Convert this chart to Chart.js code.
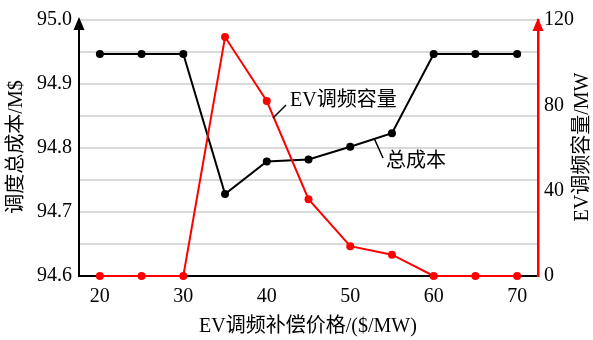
<!DOCTYPE html>
<html>
<head>
<meta charset="utf-8">
<script src="https://cdn.jsdelivr.net/npm/chart.js@4/dist/chart.umd.min.js"></script>
<style>
  body { margin: 0; background: #fff; }
  #wrap { width: 593px; height: 340px; }
</style>
</head>
<body>
<div id="wrap"><canvas id="cv" width="593" height="340"></canvas></div>
<script>
'use strict';

const FONT = '"Liberation Serif", "Times New Roman", "Noto Sans CJK SC", serif';

const prices   = [20, 25, 30, 35, 40, 45, 50, 55, 60, 65, 70];
const costs    = [94.947, 94.947, 94.947, 94.728, 94.779, 94.782, 94.802, 94.823, 94.947, 94.947, 94.947];
const capacity = [0, 0, 0, 112, 82, 36, 14, 10, 0, 0, 0];

const xTicks  = [20, 30, 40, 50, 60, 70];
const yTicks  = [94.6, 94.65, 94.7, 94.75, 94.8, 94.85, 94.9, 94.95, 95.0];
const y1Ticks = [0, 40, 80, 120];

const xTitle  = 'EV调频补偿价格/($/MW)';
const yTitle  = '调度总成本/M$';
const y1Title = 'EV调频容量/MW';

const toPts = (xs, ys) => xs.map((x, i) => ({ x, y: ys[i] }));
const asTicks = arr => arr.map(v => ({ value: v }));

// arrows on the two vertical axes, axis titles, and callout labels
const decorPlugin = {
  id: 'decor',
  afterDraw(chart) {
    const ctx = chart.ctx;
    const a = chart.chartArea;

    function arrow(x, tip, color) {
      ctx.save();
      ctx.fillStyle = color;
      ctx.beginPath();
      ctx.moveTo(x, tip);
      ctx.lineTo(x - 5.5, tip + 13);
      ctx.lineTo(x + 5.5, tip + 13);
      ctx.closePath();
      ctx.fill();
      ctx.restore();
    }
    arrow(a.left, a.top - 3, '#000');
    arrow(a.right, a.top - 2, '#ff0000');

    ctx.save();
    ctx.fillStyle = '#000';
    ctx.font = '20px ' + FONT;
    ctx.textAlign = 'center';
    ctx.textBaseline = 'middle';
    ctx.fillText(xTitle, 308, 327);

    ctx.save();
    ctx.translate(17, 147);
    ctx.rotate(-Math.PI / 2);
    ctx.fillText(yTitle, 0, 0);
    ctx.restore();

    ctx.save();
    ctx.translate(583, 147);
    ctx.rotate(-Math.PI / 2);
    ctx.fillText(y1Title, 0, 0);
    ctx.restore();

    // callouts
    ctx.textAlign = 'left';
    ctx.fillText('EV调频容量', 290, 101);
    ctx.fillText('总成本', 386, 162);
    ctx.strokeStyle = '#000';
    ctx.lineWidth = 1.5;
    ctx.beginPath();
    ctx.moveTo(273, 118);
    ctx.lineTo(286, 105);
    ctx.moveTo(374, 138);
    ctx.lineTo(383, 158);
    ctx.stroke();
    ctx.restore();
  }
};

new Chart(document.getElementById('cv'), {
  type: 'line',
  data: {
    datasets: [
      {
        label: 'EV调频容量',
        data: toPts(prices, capacity),
        yAxisID: 'y1',
        borderColor: '#ff0000',
        backgroundColor: '#ff0000',
        borderWidth: 2,
        pointRadius: 4,
        pointBorderWidth: 0,
        tension: 0,
        order: 0,
        clip: false,
      },
      {
        label: '总成本',
        data: toPts(prices, costs),
        yAxisID: 'y',
        borderColor: '#000000',
        backgroundColor: '#000000',
        borderWidth: 2,
        pointRadius: 4,
        pointBorderWidth: 0,
        tension: 0,
        order: 1,
        clip: false,
      },
    ],
  },
  options: {
    responsive: false,
    animation: false,
    layout: { padding: { top: 20, left: 0, right: 0, bottom: 0 } },
    plugins: {
      legend: { display: false },
      tooltip: { enabled: false },
    },
    scales: {
      x: {
        type: 'linear',
        min: 17.5,
        max: 72.5,
        afterFit: s => { s.height = 64; },
        afterBuildTicks: s => { s.ticks = asTicks(xTicks); },
        grid: { display: false, drawTicks: false },
        border: { display: true, color: '#000', width: 2 },
        ticks: {
          padding: 9,
          color: '#000',
          font: { family: FONT, size: 20 },
          callback: v => String(v),
        },
      },
      y: {
        position: 'left',
        min: 94.6,
        max: 95.0,
        afterFit: s => { s.width = 79; },
        afterBuildTicks: s => { s.ticks = asTicks(yTicks); },
        grid: { color: '#d9d9d9', lineWidth: 2, drawTicks: false },
        border: { display: true, color: '#000', width: 2 },
        ticks: {
          padding: 7,
          color: '#000',
          font: { family: FONT, size: 20 },
          callback: (v, i) => (i % 2 === 0 ? v.toFixed(1) : ''),
        },
      },
      y1: {
        position: 'right',
        min: 0,
        max: 120,
        afterFit: s => { s.width = 55; },
        afterBuildTicks: s => { s.ticks = asTicks(y1Ticks); },
        grid: { display: false, drawTicks: false },
        border: { display: true, color: '#ff0000', width: 2.5 },
        ticks: {
          padding: 6,
          color: '#000',
          font: { family: FONT, size: 20 },
          callback: v => String(v),
        },
      },
    },
  },
  plugins: [decorPlugin],
});
</script>
</body>
</html>
